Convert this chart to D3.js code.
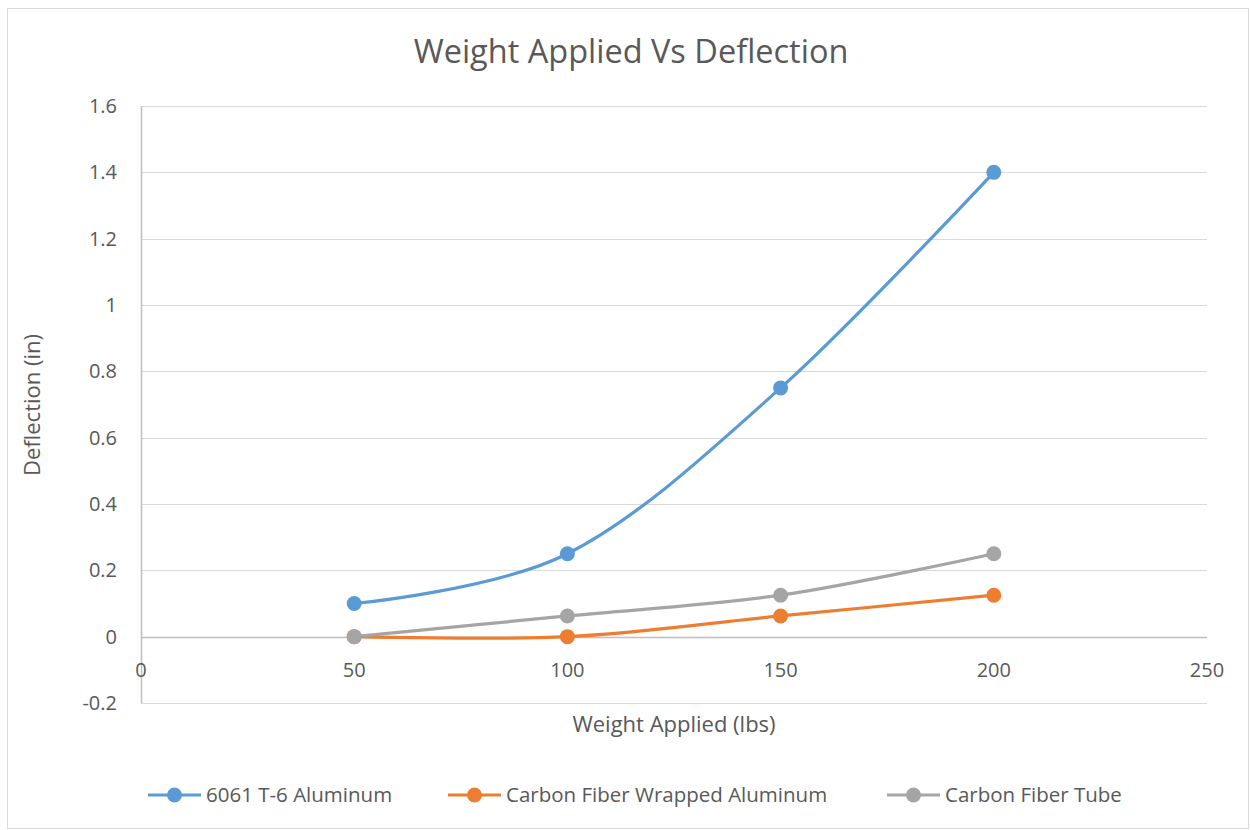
<!DOCTYPE html>
<html>
<head>
<meta charset="utf-8">
<script src="https://cdn.jsdelivr.net/npm/d3@7"></script>
<style>
body { margin: 0; background: #fff; }
text { font-family: "Open Sans", sans-serif; fill: #595959; }
</style>
</head>
<body>
<script>
var weights = [50, 100, 150, 200];
var aluminum = [0.1, 0.25, 0.75, 1.4];
var wrapped = [0, 0, 0.0625, 0.125];
var tube = [0, 0.0625, 0.125, 0.25];
var seriesNames = ["6061 T-6 Aluminum", "Carbon Fiber Wrapped Aluminum", "Carbon Fiber Tube"];
var colors = ["#5b9bd5", "#ed7d31", "#a5a5a5"];
var xTicks = [0, 50, 100, 150, 200, 250];
var yTicks = [-0.2, 0, 0.2, 0.4, 0.6, 0.8, 1, 1.2, 1.4, 1.6];

var w = 1250, h = 830;
var svg = d3.select("body").append("svg")
    .attr("width", w)
    .attr("height", h);

// outer chart border
svg.append("rect")
    .attr("x", 7.5).attr("y", 8.5)
    .attr("width", 1241).attr("height", 820)
    .attr("fill", "#fff")
    .attr("stroke", "#d9d9d9");

var x = d3.scaleLinear().domain([0, 250]).range([141, 1207]);
var y = d3.scaleLinear().domain([-0.2, 1.6]).range([703, 106]);

// gridlines
svg.selectAll(".grid")
    .data(yTicks)
    .enter()
    .append("line")
    .attr("x1", x(0)).attr("x2", x(250))
    .attr("y1", function(d){ return Math.round(y(d)) + 0.5; })
    .attr("y2", function(d){ return Math.round(y(d)) + 0.5; })
    .attr("stroke", function(d){ return d === 0 ? "#bfbfbf" : "#d9d9d9"; })
    .attr("stroke-width", function(d){ return d === 0 ? 1.5 : 1.2; });

// vertical axis line
svg.append("line")
    .attr("x1", Math.round(x(0)) + 0.5).attr("x2", Math.round(x(0)) + 0.5)
    .attr("y1", y(1.6)).attr("y2", y(-0.2))
    .attr("stroke", "#bfbfbf").attr("stroke-width", 1.5);

// y tick labels
svg.selectAll(".ylab")
    .data(yTicks)
    .enter()
    .append("text")
    .attr("x", 117)
    .attr("y", function(d){ return y(d) + 7; })
    .attr("text-anchor", "end")
    .style("font-size", "20px")
    .text(function(d){ return String(d); });

// x tick labels (axis crosses at y = 0)
svg.selectAll(".xlab")
    .data(xTicks)
    .enter()
    .append("text")
    .attr("x", function(d){ return x(d); })
    .attr("y", y(0) + 40)
    .attr("text-anchor", "middle")
    .style("font-size", "20px")
    .text(function(d){ return d; });

// title
svg.append("text")
    .attr("x", 631).attr("y", 63)
    .attr("text-anchor", "middle")
    .style("font-size", "32.5px")
    .text("Weight Applied Vs Deflection");

// axis titles
svg.append("text")
    .attr("x", 674).attr("y", 732)
    .attr("text-anchor", "middle")
    .style("font-size", "22px")
    .text("Weight Applied (lbs)");

svg.append("text")
    .attr("transform", "translate(40,405) rotate(-90)")
    .attr("text-anchor", "middle")
    .style("font-size", "22px")
    .text("Deflection (in)");

var series = [aluminum, wrapped, tube];
var line = d3.line()
    .x(function(d, i){ return x(weights[i]); })
    .y(function(d){ return y(d); })
    .curve(d3.curveCardinal.tension(0));

// draw in order: aluminum, wrapped, tube (tube on top at 50)
series.forEach(function(vals, k){
    svg.append("path")
        .datum(vals)
        .attr("d", line)
        .attr("fill", "none")
        .attr("stroke", colors[k])
        .attr("stroke-width", 3.2)
        .attr("stroke-linecap", "round");
});
series.forEach(function(vals, k){
    svg.selectAll(".pt" + k)
        .data(vals)
        .enter()
        .append("circle")
        .attr("cx", function(d, i){ return x(weights[i]); })
        .attr("cy", function(d){ return y(d); })
        .attr("r", 7.5)
        .attr("fill", colors[k]);
});

// legend
var legendX = [148, 448, 887];
var leg = svg.selectAll(".leg")
    .data(seriesNames)
    .enter()
    .append("g")
    .attr("transform", function(d, i){ return "translate(" + legendX[i] + ",795)"; });
leg.append("line")
    .attr("x1", 0).attr("x2", 53)
    .attr("y1", 0).attr("y2", 0)
    .attr("stroke", function(d, i){ return colors[i]; })
    .attr("stroke-width", 3.2);
leg.append("circle")
    .attr("cx", 26.5).attr("cy", 0).attr("r", 7.5)
    .attr("fill", function(d, i){ return colors[i]; });
leg.append("text")
    .attr("x", 58).attr("y", 7)
    .style("font-size", "20.5px")
    .text(function(d){ return d; });
</script>
</body>
</html>
